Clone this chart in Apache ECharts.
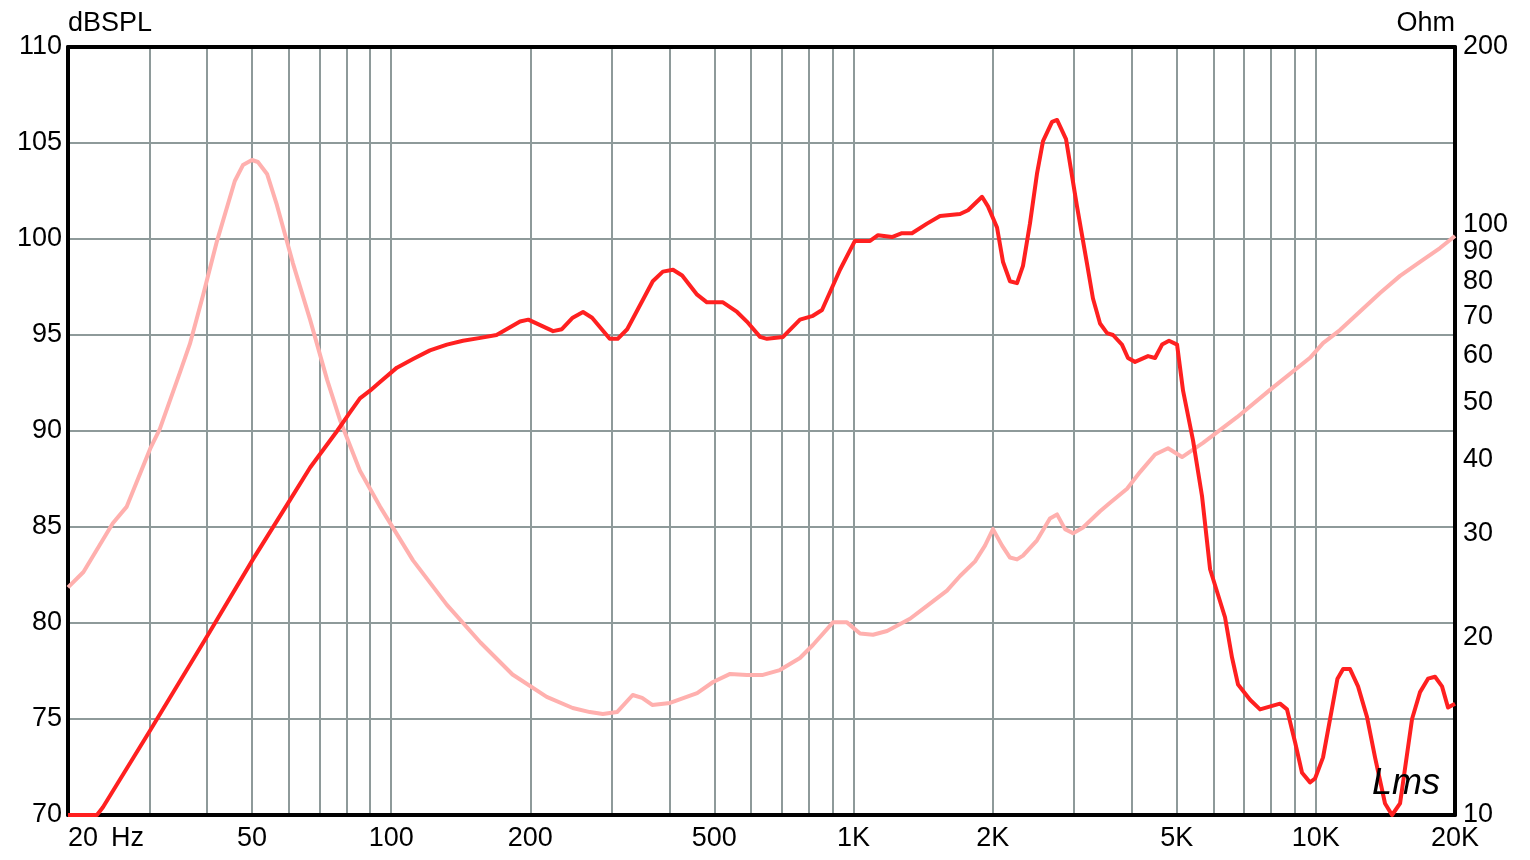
<!DOCTYPE html>
<html><head><meta charset="utf-8">
<script src="https://cdn.jsdelivr.net/npm/echarts@6/dist/echarts.min.js"></script>
<style>html,body{margin:0;padding:0;background:#fff}#c{width:1530px;height:860px}</style>
</head><body><div id="c"></div>
<script>
// SPL response (Hz, dB SPL)
const splFreq = [20,23.1,23.8,30.1,40.2,50.2,60.4,66.8,76.4,81.1,85.6,90.0,94.6,102.9,111.5,121.3,132,143,156,169,190,198,224,234,247,260,272,297,309,324,368,387,407,426,459,482,522,560,588,628,650,704,766,817,855,935,1007,1086,1130,1211,1273,1338,1442,1539,1700,1769,1897,1954,2044,2106,2180,2258,2326,2408,2494,2570,2688,2756,2882,3044,3200,3296,3414,3536,3642,3808,3924,4064,4336,4490,4650,4814,5010,5162,5426,5674,5906,6362,6588,6788,7206,7574,8366,8664,9016,9336,9716,9962,10366,11138,11456,11858,12340,12906,13430,14116,14618,15212,16148,16804,17486,18108,18748,19316,20000];
const splDb = [70,70,70.4,74.4,79.4,83.3,86.4,88.1,90.0,90.9,91.7,92.1,92.55,93.3,93.75,94.2,94.5,94.7,94.85,95.0,95.7,95.8,95.2,95.3,95.9,96.2,95.9,94.8,94.8,95.3,97.8,98.3,98.4,98.1,97.1,96.7,96.7,96.2,95.7,94.9,94.8,94.9,95.8,96.0,96.3,98.4,99.9,99.9,100.2,100.1,100.3,100.3,100.8,101.2,101.3,101.5,102.2,101.7,100.6,98.8,97.8,97.7,98.6,100.8,103.4,105.1,106.1,106.2,105.2,101.7,98.7,96.9,95.6,95.1,95.0,94.5,93.8,93.6,93.9,93.8,94.5,94.7,94.5,92.1,89.5,86.6,82.8,80.3,78.2,76.8,76.0,75.5,75.8,75.5,73.8,72.2,71.7,71.9,73.0,77.1,77.6,77.6,76.7,75.1,73.0,70.6,70.0,70.6,75.0,76.4,77.1,77.2,76.7,75.6,75.8];
// Impedance (Hz, Ohm)
const impFreq = [20,21.6,25.0,26.8,30.1,31.6,34.9,36.7,39.2,42.0,45.9,47.8,50.0,51.5,53.9,56.6,61.3,66.8,72.7,77.5,85.6,94.6,111.5,132,156,183,217,247,269,287,308,333,349,367,401,459,497,541,588,637,693,766,817,903,968,1033,1102,1182,1325,1442,1593,1700,1832,1925,2003,2096,2180,2258,2326,2494,2660,2756,2868,2985,3137,3414,3589,3906,4166,4490,4790,5136,5702,6754,7960,9716,10366,11278,13770,15212,16804,18560,20000];
const impOhm = [24.3,25.8,31.2,33.3,41.7,45.1,56.1,62.8,76.0,93.8,118.6,126.2,128.7,127.7,121.9,108.0,86.1,69.0,54.6,46.7,38.3,33.3,27.0,22.7,19.6,17.3,15.85,15.18,14.94,14.83,14.94,15.97,15.79,15.36,15.48,16.09,16.80,17.34,17.27,17.27,17.60,18.45,19.41,21.2,21.2,20.3,20.2,20.5,21.5,22.6,24.0,25.4,26.9,28.6,30.5,28.6,27.3,27.1,27.5,29.2,31.8,32.3,30.5,30.0,30.7,32.7,33.8,35.7,38.1,40.8,41.8,40.4,42.7,47.2,52.5,59.5,63.0,66.3,76.6,81.9,86.5,91.3,95.7];
// Axis ticks
const xLabelFreqs = [20,50,100,200,500,1000,2000,5000,10000,20000];
const xLabelTexts = ['20','50','100','200','500','1K','2K','5K','10K','20K'];
const xGridFreqs = [30,40,50,60,70,80,90,100,200,300,400,500,600,700,800,900,1000,2000,3000,4000,5000,6000,7000,8000,9000,10000];
const ohmTicks = [10,20,30,40,50,60,70,80,90,100,200];

const FONT = '"Liberation Sans", Arial, sans-serif';
const FS = 27;
const GRIDC = '#8e9a9a';

function nearestIdx(arr, v) {
  let best = 0, bd = Infinity;
  arr.forEach((a, i) => { const d = Math.abs(Math.log(a) - Math.log(v)); if (d < bd) { bd = d; best = i; } });
  return best;
}

const chart = echarts.init(document.getElementById('c'), null, {renderer: 'canvas'});
chart.setOption({
  animation: false,
  backgroundColor: '#fff',
  grid: {left: 68, right: 75, top: 47, bottom: 45, show: false},
  xAxis: [{
    type: 'log', logBase: 10, min: 20, max: 20000,
    axisLine: {show: true, lineStyle: {color: '#000', width: 4}},
    axisTick: {show: false, customValues: xGridFreqs},
    splitLine: {show: true, lineStyle: {color: GRIDC, width: 2}},
    axisLabel: {
      customValues: xLabelFreqs,
      margin: 10, color: '#000', fontSize: FS, fontFamily: FONT,
      alignMinLabel: 'left',
      formatter: function (v) {
        const i = nearestIdx(xLabelFreqs, v);
        if (i === 0) return '{a|' + xLabelTexts[0] + '}{h|Hz}';
        return xLabelTexts[i];
      },
      rich: {
        a: {fontSize: FS, fontFamily: FONT, color: '#000'},
        h: {fontSize: FS, fontFamily: FONT, color: '#000', padding: [0, 0, 0, 13]}
      }
    }
  }, {
    type: 'log', logBase: 10, min: 20, max: 20000, position: 'top',
    axisLine: {show: true, lineStyle: {color: '#000', width: 4}},
    axisTick: {show: false}, axisLabel: {show: false}, splitLine: {show: false}
  }],
  yAxis: [{
    type: 'value', min: 70, max: 110, interval: 5, position: 'left',
    name: 'dBSPL', nameLocation: 'end', nameGap: 10,
    nameTextStyle: {align: 'left', verticalAlign: 'bottom', fontSize: FS, fontFamily: FONT, color: '#000'},
    axisLine: {show: true, lineStyle: {color: '#000', width: 4}},
    axisTick: {show: false},
    splitLine: {show: true, showMinLine: false, showMaxLine: false, lineStyle: {color: GRIDC, width: 2}},
    axisLabel: {margin: 6, color: '#000', fontSize: FS, fontFamily: FONT}
  }, {
    type: 'log', logBase: 10, min: 10, max: 200, position: 'right',
    name: 'Ohm', nameLocation: 'end', nameGap: 10,
    nameTextStyle: {align: 'right', verticalAlign: 'bottom', fontSize: FS, fontFamily: FONT, color: '#000'},
    axisLine: {show: true, lineStyle: {color: '#000', width: 4}},
    axisTick: {show: false},
    splitLine: {show: false},
    axisLabel: {
      customValues: ohmTicks, margin: 8, color: '#000', fontSize: FS, fontFamily: FONT,
      formatter: function (v) { return String(ohmTicks[nearestIdx(ohmTicks, v)]); }
    }
  }],
  graphic: [{
    type: 'text', left: 1372, top: 766, z: 5,
    style: {text: 'Lms', font: 'italic 36px "Liberation Sans", sans-serif', fill: '#000'}
  }],
  series: [{
    name: 'Impedance', type: 'line', xAxisIndex: 0, yAxisIndex: 1,
    data: impFreq.map((f, i) => [f, impOhm[i]]),
    showSymbol: false, clip: false, smooth: false,
    lineStyle: {color: '#ffb0ae', width: 4, join: 'round'}, z: 3
  }, {
    name: 'SPL', type: 'line', xAxisIndex: 0, yAxisIndex: 0,
    data: splFreq.map((f, i) => [f, splDb[i]]),
    showSymbol: false, clip: false, smooth: false,
    lineStyle: {color: '#ff2020', width: 4, join: 'round'}, z: 4
  }]
});
</script></body></html>
